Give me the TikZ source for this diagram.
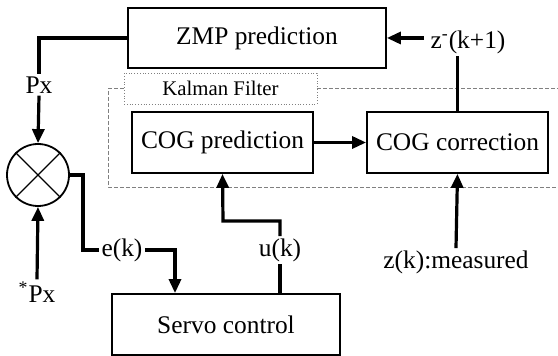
\documentclass[tikz,border=0pt]{standalone}
\usepackage{fontspec}
\setmainfont{Liberation Serif}
\usetikzlibrary{arrows.meta}

\begin{document}
\begin{tikzpicture}[
		x=0.5pt, y=-0.5pt,
		>={Triangle[length=7pt,width=6pt]},
		block node/.style={rectangle, draw, line width=0.9pt, inner sep=0pt, font=\fontsize{12.7}{15}\selectfont},
		text node/.style={inner sep=1pt, font=\fontsize{12.7}{15}\selectfont},
		kalman node/.style={rectangle, draw=gray, densely dotted, line width=0.4pt, inner sep=0pt, minimum width=96.5pt, minimum height=15.5pt, font=\fontsize{10.4}{12}\selectfont},
		sum node/.style={circle, draw, line width=0.9pt, inner sep=0pt, minimum size=31pt},
		signal/.style={line width=1.6pt},
		filter line/.style={gray, line width=0.4pt, dash pattern=on 2pt off 1pt}
	]
		\useasboundingbox (0,0) rectangle (558,356);

		\node[block node, minimum width=129pt, minimum height=30pt] (zmp) at (257,38) {ZMP prediction};
		\node[kalman node] (kal) at (220.5,88.5) {Kalman Filter};
		\node[block node, minimum width=90.5pt, minimum height=30.5pt] (cogp) at (222.5,142.5) {COG prediction};
		\node[block node, minimum width=90.5pt, minimum height=30.5pt] (cogc) at (457.5,142.5) {COG correction};
		\node[block node, minimum width=114pt, minimum height=30.5pt] (servo) at (226,324.5) {Servo control};

		\node[sum node] (sum) at (38,175) {};
		\draw[line width=0.6pt] (sum.north west) -- (sum.south east);
		\draw[line width=0.6pt] (sum.north east) -- (sum.south west);

		\node[text node] (px) at (39,85) {Px};
		\node[text node] (spx) at (37,292) {\textsuperscript{*}Px};
		\node[text node] (ek) at (122,250) {e(k)};
		\node[text node] (uk) at (280,250) {u(k)};
		\node[text node] (zmin) at (468,42) {z\textsuperscript{-}(k+1)};
		\node[text node] (zmeas) at (456,262) {z(k):measured};

		\coordinate (ebend) at (83,250);
		\coordinate (ubend) at (223,221);

		% kalman filter frame
		\draw[filter line] (kal.east) -- (558,88.5);
		\draw[filter line] (kal.west) -- (108,88.5) -- (108,187) -- (558,187);

		\draw[signal] (zmp.west) -| (px.north);
		\draw[signal,->] (px.south) -- (sum.north);
		\draw[signal,->] (spx.north) -- (sum.south);
		\draw[signal] (sum.east) -| (ebend) -- (ek.west);
		\draw[signal,->] (ek.east) -| ([xshift=-25.5pt]servo.north);
		\draw[signal] ([xshift=27pt]servo.north) -- (uk.south);
		\draw[signal,->] (uk.north) |- (ubend) -- (cogp.south);
		\draw[signal,->] (cogp.east) -- (cogc.west);
		\draw[signal,->] ([xshift=-2pt]zmin.west |- zmp.east) -- (zmp.east);
		\draw[signal] (cogc.north) -- (cogc.north |- zmin.south);
		\draw[signal,->] (zmeas.north) -- (cogc.south);
	\end{tikzpicture}
\end{document}
